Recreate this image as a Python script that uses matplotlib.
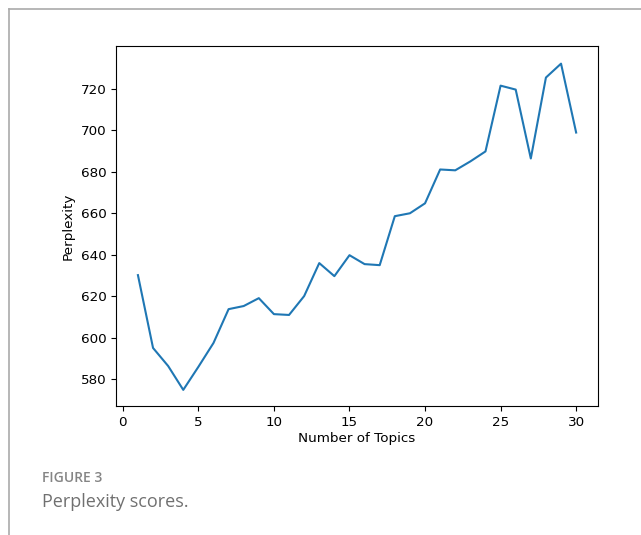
import matplotlib.pyplot as plt
from matplotlib.lines import Line2D

# perplexity for each topic count
topics = list(range(1, 31))
perplexity = [630.1, 595.0, 586.3, 574.8, 585.9, 597.4, 613.7, 615.2, 619.0, 611.3,
              610.9, 620.0, 635.9, 629.6, 639.7, 635.4, 634.9, 658.5, 659.9, 664.7,
              681.0, 680.6, 684.9, 689.7, 721.4, 719.5, 686.3, 725.3, 732.0, 698.8]
x_ticks = [0, 5, 10, 15, 20, 25, 30]
y_ticks = [580, 600, 620, 640, 660, 680, 700, 720]

fig = plt.figure(figsize=(6.41, 5.35), dpi=100)
ax = fig.add_axes([0.181, 0.241, 0.752, 0.673])

ax.plot(topics, perplexity, color="#1f77b4", linewidth=1.5)
ax.set_xticks(x_ticks)
ax.set_yticks(y_ticks)
ax.set_xlim(-0.45, 31.45)
ax.set_ylim(567, 740.5)
ax.tick_params(labelsize=9.7, length=3.5, width=0.8)
ax.set_xlabel("Number of Topics", fontsize=9.7, labelpad=2)
ax.set_ylabel("Perplexity", fontsize=9.7, labelpad=4)

# page frame around the figure
fig.add_artist(Line2D([0.014, 1.0], [0.983, 0.983], color="#aaaaaa", linewidth=1.2))
fig.add_artist(Line2D([0.014, 0.014], [0.0, 0.983], color="#aaaaaa", linewidth=1.2))

# caption
fig.text(0.066, 0.107, "FIGURE 3", fontsize=10, color="#858585", family="Open Sans",
         weight="semibold", va="center")
fig.text(0.066, 0.061, "Perplexity scores.", fontsize=13, color="#707070",
         family="Open Sans", va="center")

plt.savefig("out.png", dpi=100)
